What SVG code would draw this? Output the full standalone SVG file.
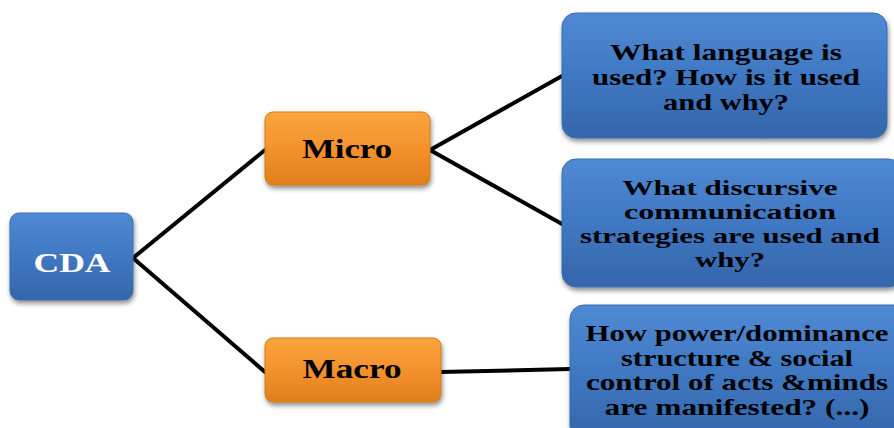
<svg xmlns="http://www.w3.org/2000/svg" width="894" height="428" viewBox="0 0 894 428">
  <defs>
    <linearGradient id="gBlue" x1="0" y1="0" x2="0" y2="1">
      <stop offset="0" stop-color="#4f8ad3"/>
      <stop offset="0.5" stop-color="#3f78c2"/>
      <stop offset="1" stop-color="#3466ab"/>
    </linearGradient>
    <linearGradient id="gOrange" x1="0" y1="0" x2="0" y2="1">
      <stop offset="0" stop-color="#fba53f"/>
      <stop offset="0.5" stop-color="#f3922c"/>
      <stop offset="1" stop-color="#e07f1c"/>
    </linearGradient>
    <filter id="shadow" x="-10%" y="-10%" width="125%" height="130%">
      <feGaussianBlur in="SourceAlpha" stdDeviation="2.5"/>
      <feOffset dx="1" dy="3" result="b"/>
      <feComponentTransfer><feFuncA type="linear" slope="0.45"/></feComponentTransfer>
      <feMerge><feMergeNode/><feMergeNode in="SourceGraphic"/></feMerge>
    </filter>
  </defs>
  <style>
    .blue { fill: url(#gBlue); stroke: #3a6cb0; stroke-width: 1; filter: url(#shadow); }
    .orange { fill: url(#gOrange); stroke: #d27a1c; stroke-width: 1; filter: url(#shadow); }
    .t { font-family: "Liberation Serif", "Times New Roman", serif; font-weight: bold; text-anchor: middle; }
    .big { font-size: 27px; }
    .q { font-size: 23px; fill: #000; }
    .q2 { font-size: 22px; }
    .conn { stroke: #000; stroke-width: 4; fill: none; stroke-linecap: round; }
  </style>
  <rect width="894" height="428" fill="#ffffff"/>

  <g id="connectors">
    <line class="conn" x1="133" y1="258" x2="265" y2="150"/>
    <line class="conn" x1="133" y1="258" x2="265" y2="372"/>
    <line class="conn" x1="430" y1="150" x2="562" y2="76"/>
    <line class="conn" x1="430" y1="150" x2="562" y2="224"/>
    <line class="conn" x1="440" y1="372" x2="570" y2="369"/>
  </g>

  <g id="node-cda">
    <rect class="blue" x="10" y="213" width="123" height="87" rx="9"/>
    <text class="t big" x="72" y="272" fill="#ffffff" textLength="77" lengthAdjust="spacingAndGlyphs">CDA</text>
  </g>

  <g id="node-micro">
    <rect class="orange" x="265" y="112" width="165" height="73" rx="8"/>
    <text class="t big" x="347" y="158" fill="#000" textLength="90" lengthAdjust="spacingAndGlyphs">Micro</text>
  </g>

  <g id="node-macro">
    <rect class="orange" x="265" y="338" width="176" height="64" rx="8"/>
    <text class="t big" x="352" y="378" fill="#000" textLength="99" lengthAdjust="spacingAndGlyphs">Macro</text>
  </g>

  <g id="node-q1">
    <rect class="blue" x="562" y="13" width="325" height="125" rx="14"/>
    <text class="t q" x="726" y="60" textLength="232" lengthAdjust="spacingAndGlyphs">What language is</text>
    <text class="t q" x="726" y="85" textLength="268" lengthAdjust="spacingAndGlyphs">used? How is it used</text>
    <text class="t q" x="726" y="110" textLength="126" lengthAdjust="spacingAndGlyphs">and why?</text>
  </g>

  <g id="node-q2">
    <rect class="blue" x="562" y="159" width="340" height="128" rx="14"/>
    <text class="t q q2" x="730" y="195" textLength="215" lengthAdjust="spacingAndGlyphs">What discursive</text>
    <text class="t q q2" x="730" y="219" textLength="212" lengthAdjust="spacingAndGlyphs">communication</text>
    <text class="t q q2" x="730" y="243" textLength="300" lengthAdjust="spacingAndGlyphs">strategies are used and</text>
    <text class="t q q2" x="730" y="267" textLength="70" lengthAdjust="spacingAndGlyphs">why?</text>
  </g>

  <g id="node-q3">
    <rect class="blue" x="570" y="305" width="340" height="135" rx="14"/>
    <text class="t q" x="737" y="341" textLength="303" lengthAdjust="spacingAndGlyphs">How power/dominance</text>
    <text class="t q" x="737" y="366" textLength="232" lengthAdjust="spacingAndGlyphs">structure &amp; social</text>
    <text class="t q" x="737" y="390" textLength="302" lengthAdjust="spacingAndGlyphs">control of acts &amp;minds</text>
    <text class="t q" x="737" y="415" textLength="265" lengthAdjust="spacingAndGlyphs">are manifested? (...)</text>
  </g>
</svg>
